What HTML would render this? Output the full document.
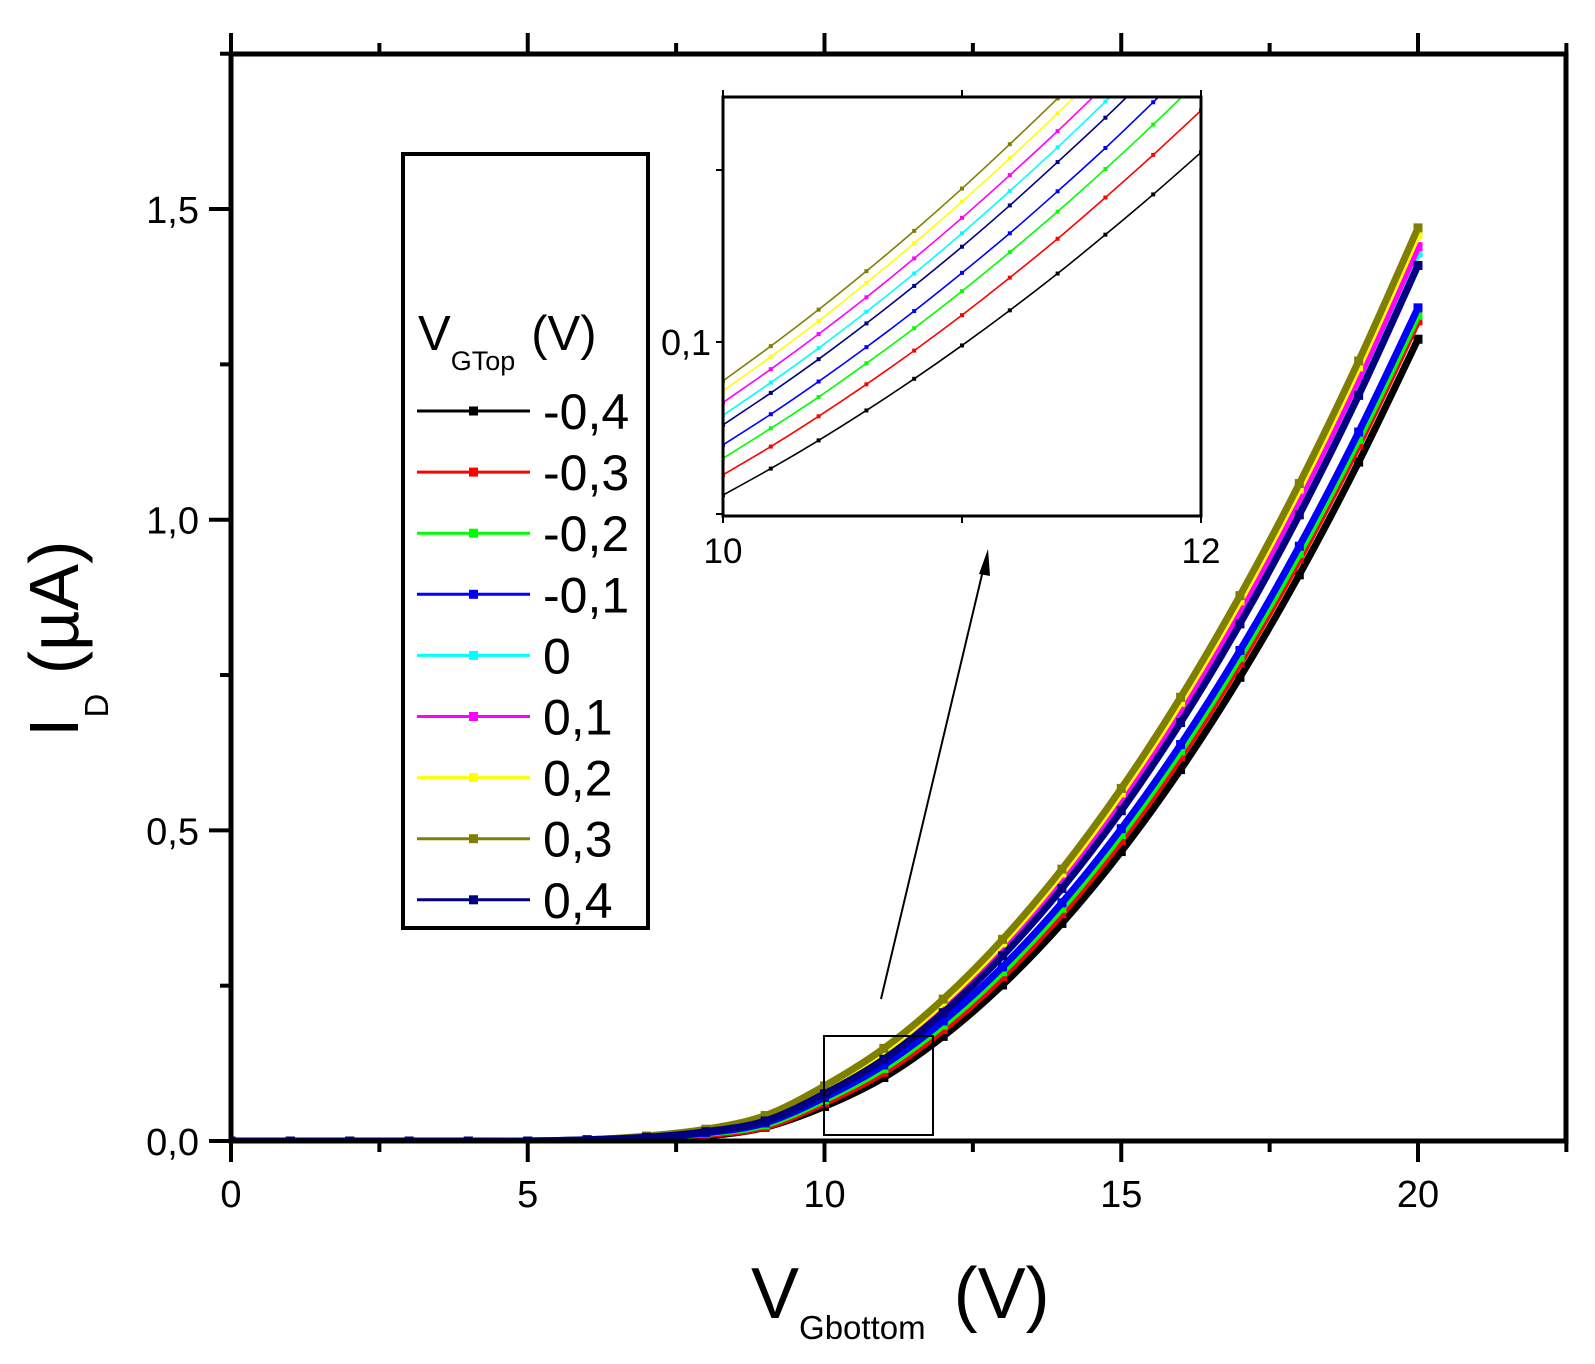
<!DOCTYPE html>
<html><head><meta charset="utf-8"><style>
html,body{margin:0;padding:0;background:#fff;}
svg{display:block;font-family:"Liberation Sans",Arial,sans-serif;}
</style></head><body>
<svg id="chart" width="1595" height="1364" viewBox="0 0 1595 1364" xmlns="http://www.w3.org/2000/svg">
<rect width="1595" height="1364" fill="#fff"/>
<defs><clipPath id="mainclip"><rect x="231" y="54" width="1335" height="1087"/></clipPath>
<clipPath id="insetclip"><rect x="723" y="97" width="478" height="419"/></clipPath></defs>
<g id="main-series" clip-path="url(#mainclip)"></g>
<g id="axes"></g>
<text transform="translate(78,737) rotate(-90)" font-size="70">I<tspan font-size="33" dy="30">D</tspan><tspan dy="-30"> (µA)</tspan></text>
<text x="751" y="1318" font-size="72">V<tspan font-size="33" dy="21">Gbottom</tspan><tspan dy="-21" dx="28">(V)</tspan></text>
<g id="legend">
<rect x="403" y="154" width="245" height="774" fill="#fff" stroke="#000" stroke-width="4"/>
<text x="418" y="350" font-size="49">V<tspan font-size="27" dy="20">GTop</tspan><tspan dy="-20" dx="16">(V)</tspan></text>
</g>
<g id="inset">
<rect x="723" y="97" width="478" height="419" fill="#fff"/>
<g id="inset-series" clip-path="url(#insetclip)"></g>
<g id="inset-axes"></g>
</g>
<rect x="824" y="1036" width="109" height="99" fill="none" stroke="#000" stroke-width="2"/>
<line x1="881" y1="999" x2="985" y2="562" stroke="#000" stroke-width="2"/>
<polygon points="988,549 979,574 990,576" fill="#000"/>
</svg>
<script>
const NS="http://www.w3.org/2000/svg";
const seriesNames=["-0,4","-0,3","-0,2","-0,1","0","0,1","0,2","0,3","0,4"];
const seriesColors=["#000000","#ff0000","#00ff00","#0000ff","#00ffff","#ff00ff","#ffff00","#808000","#000080"];
const mainV=[0,1,2,3,4,5,6,7,8,9,10,11,12,13,14,15,16,17,18,19,20];
const iNeg04=[0,0,0,0,0,0,0.001,0.003,0.008,0.022,0.0555,0.1022,0.1684,0.2511,0.3502,0.4658,0.5978,0.7463,0.9113,1.0927,1.2905];
const iNeg03=[0,0,0,0,0,0,0.001,0.004,0.010,0.0229,0.0614,0.1107,0.1793,0.2643,0.3658,0.4837,0.6181,0.7690,0.9363,1.1200,1.3202];
const iNeg02=[0,0,0,0,0,0,0.001,0.005,0.012,0.0261,0.0662,0.1169,0.1866,0.2726,0.3748,0.4932,0.6279,0.7788,0.9459,1.1293,1.3290];
const iNeg01=[0,0,0,0,0,0,0.0015,0.005,0.013,0.029,0.0701,0.1224,0.1932,0.2803,0.3834,0.5027,0.6381,0.7896,0.9573,1.1411,1.3410];
const iZero=[0,0,0,0,0,0,0.002,0.006,0.016,0.0341,0.0787,0.1358,0.2120,0.3050,0.4150,0.5418,0.6856,0.8462,1.0237,1.2182,1.4295];
const iPos01=[0,0,0,0,0,0,0.002,0.007,0.017,0.0365,0.0824,0.1403,0.2173,0.3113,0.4220,0.5495,0.6939,0.8551,1.0331,1.2279,1.4395];
const iPos02=[0,0,0,0,0,0,0.002,0.007,0.018,0.0389,0.0858,0.1452,0.2236,0.3190,0.4313,0.5604,0.7064,0.8694,1.0492,1.2459,1.4595];
const iPos03=[0,0,0,0,0,0,0.002,0.008,0.019,0.0410,0.0887,0.1491,0.2284,0.3246,0.4376,0.5675,0.7142,0.8778,1.0582,1.2555,1.4697];
const iPos04=[0,0,0,0,0,0,0.002,0.006,0.015,0.0322,0.0759,0.1316,0.2064,0.2980,0.4064,0.5316,0.6735,0.8323,1.0078,1.2001,1.4092];
const insetV=[10,10.2,10.4,10.6,10.8,11,11.2,11.4,11.6,11.8,12];
const inNeg04=[.0555,.0632,.0714,.0801,.0893,.0990,.1092,.1199,.1312,.1429,.1551];
const inNeg03=[.0614,.0696,.0784,.0877,.0975,.1078,.1187,.1300,.1420,.1544,.1673];
const inNeg02=[.0662,.0749,.0840,.0938,.1040,.1148,.1261,.1379,.1503,.1632,.1767];
const inNeg01=[.0701,.0790,.0885,.0985,.1090,.1201,.1316,.1438,.1564,.1697,.1834];
const inZero=[.0787,.0882,.0982,.1088,.1199,.1316,.1439,.1566,.1699,.1837,.1981];
const inPos01=[.0824,.0921,.1023,.1130,.1243,.1361,.1485,.1613,.1747,.1886,.2031];
const inPos02=[.0858,.0957,.1061,.1172,.1287,.1408,.1534,.1665,.1803,.1945,.2093];
const inPos03=[.0887,.0988,.1094,.1206,.1323,.1446,.1575,.1708,.1847,.1992,.2142];
const inPos04=[.0759,.0852,.0950,.1054,.1163,.1277,.1397,.1523,.1652,.1788,.1930];
const xTicks=[0,5,10,15,20];
const xTickLabels=["0","5","10","15","20"];
const yTicks=[0,0.5,1.0,1.5];
const yTickLabels=["0,0","0,5","1,0","1,5"];
const mainSeries=[iNeg04,iNeg03,iNeg02,iNeg01,iZero,iPos01,iPos02,iPos03,iPos04];
const insetSeries=[inNeg04,inNeg03,inNeg02,inNeg01,inZero,inPos01,inPos02,inPos03,inPos04];
const drawOrder=[0,1,2,3,4,5,6,7,8];

const X=v=>231+v*59.35, Y=v=>1141-v*621.3;
const IX=v=>723+(v-10)*239, IY=v=>342-(v-0.1)*3440;
function el(tag,attrs,parent){const e=document.createElementNS(NS,tag);for(const k in attrs)e.setAttribute(k,attrs[k]);parent.appendChild(e);return e;}
function smooth(pts){let d="M"+pts[0][0]+","+pts[0][1];for(let i=0;i<pts.length-1;i++){const p0=pts[Math.max(0,i-1)],p1=pts[i],p2=pts[i+1],p3=pts[Math.min(pts.length-1,i+2)];d+=" C"+(p1[0]+(p2[0]-p0[0])/6)+","+(p1[1]+(p2[1]-p0[1])/6)+" "+(p2[0]-(p3[0]-p1[0])/6)+","+(p2[1]-(p3[1]-p1[1])/6)+" "+p2[0]+","+p2[1];}return d;}

const mg=document.getElementById("main-series");
drawOrder.forEach(i=>{
  const g=el("g",{},mg);
  
  
  const pts=mainV.map((v,j)=>[X(v),Y(mainSeries[i][j])]);
  const p=el("path",{d:smooth(pts),fill:"none",stroke:seriesColors[i],"stroke-width":7},g);
  
  
  pts.forEach(q=>{const r=el("rect",{x:q[0]-4.5,y:q[1]-4.5,width:9,height:9,fill:seriesColors[i]},g);
    
    });
});

const ax=document.getElementById("axes");
el("rect",{x:231,y:54,width:1335,height:1087,fill:"none",stroke:"#000","stroke-width":5},ax);
for(let v=0;v<=22.5;v+=2.5){const major=(v%5===0);const L=major?21:11;
  el("line",{x1:X(v),x2:X(v),y1:1141,y2:1141+L,stroke:"#000","stroke-width":4},ax);
  el("line",{x1:X(v),x2:X(v),y1:54,y2:54-L,stroke:"#000","stroke-width":4},ax);}
for(let v=0;v<=1.75;v+=0.25){const major=(Math.round(v*4)%2===0);const L=major?22:11;
  el("line",{x1:231-L,x2:231,y1:Y(v),y2:Y(v),stroke:"#000","stroke-width":4},ax);}
xTicks.forEach((v,i)=>{const t=el("text",{x:X(v),y:1207,"font-size":38,"text-anchor":"middle"},ax);t.textContent=xTickLabels[i];
  
  });
yTicks.forEach((v,i)=>{const t=el("text",{x:199,y:Y(v)+14,"font-size":38,"text-anchor":"end"},ax);t.textContent=yTickLabels[i];
  
  });

const lg=document.getElementById("legend");
seriesNames.forEach((n,i)=>{const y=411+i*61.1;
  const g=el("g",{},lg);
  
  
  el("line",{x1:417,x2:530,y1:y,y2:y,stroke:seriesColors[i],"stroke-width":3},g);
  el("rect",{x:469,y:y-4.5,width:9,height:9,fill:seriesColors[i]},g);
  const t=el("text",{x:543,y:y+18,"font-size":50},g);t.textContent=n;});

const ig=document.getElementById("inset-series");
drawOrder.forEach(i=>{
  const g=el("g",{},ig);
  
  
  const pts=insetV.map((v,j)=>[IX(v),IY(insetSeries[i][j])]);
  el("path",{d:smooth(pts),fill:"none",stroke:seriesColors[i],"stroke-width":1.6},g);
  pts.forEach(q=>{el("rect",{x:q[0]-2,y:q[1]-2,width:4,height:4,fill:seriesColors[i]},g);});
});
const ia=document.getElementById("inset-axes");
el("rect",{x:723,y:97,width:478,height:419,fill:"none",stroke:"#000","stroke-width":3},ia);
[0.05,0.1,0.15].forEach(v=>el("line",{x1:716,x2:723,y1:IY(v),y2:IY(v),stroke:"#000","stroke-width":2},ia));
[10,11,12].forEach(v=>{el("line",{x1:IX(v),x2:IX(v),y1:516,y2:523,stroke:"#000","stroke-width":2},ia);
  el("line",{x1:IX(v),x2:IX(v),y1:97,y2:90,stroke:"#000","stroke-width":2},ia);});
const il=el("text",{x:711,y:IY(0.1)+13,"font-size":36,"text-anchor":"end"},ia);il.textContent="0,1";


[[10,"10"],[12,"12"]].forEach(a=>{const t=el("text",{x:IX(a[0]),y:563,"font-size":35,"text-anchor":"middle"},ia);t.textContent=a[1];
  
  });
</script>
</body></html>
